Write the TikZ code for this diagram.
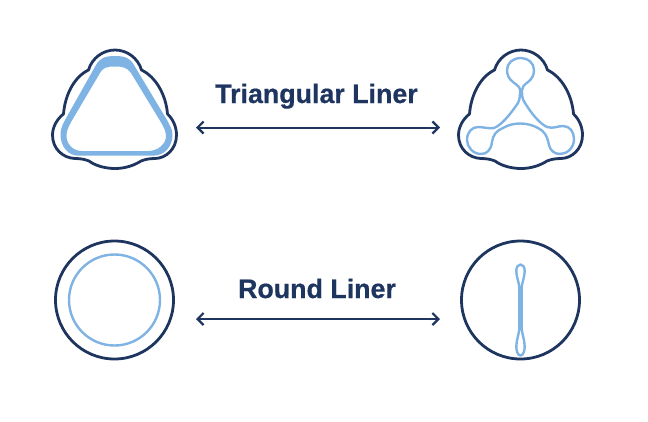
\documentclass[tikz,border=0pt]{standalone}
\usepackage{fontspec}
\setmainfont{Liberation Sans}
\usetikzlibrary{arrows.meta}
\definecolor{navy}{HTML}{1E3560}
\definecolor{sky}{HTML}{7FB3E3}
\tikzset{
  shell/.style={draw=navy,line width=2.8pt,line join=round},
  ring/.style={circle,draw=navy,line width=2.8pt,minimum size=118pt,inner sep=0pt},
  liner/.style={draw=sky,line width=2.4pt,line join=round},
  title/.style={text=navy,font=\fontsize{26.8pt}{30pt}\selectfont\bfseries\addfontfeature{FakeBold=0.6},anchor=base,inner sep=0pt},
  link/.style={draw=navy,line width=2pt,{Straight Barb[length=6pt,width=12pt,line width=2.2pt]}-{Straight Barb[length=6pt,width=12pt,line width=2.2pt]}}
}
\newcommand{\lobeshell}{
  (88.5,70) .. controls (92,58) and (103,50) .. (115,50)
  .. controls (127,50) and (138,58) .. (141.5,70)
  .. controls (156,77) and (166,95) .. (167.5,114)
  .. controls (173,119) and (176.5,127) .. (176.5,135)
  .. controls (176.5,149) and (166,158.3) .. (155,158.5)
  .. controls (150,158.6) and (146,159) .. (141,161)
  .. controls (134,165.5) and (125,168.5) .. (115,168.5)
  .. controls (105,168.5) and (95,165.5) .. (89,161)
  .. controls (84,159) and (80,158.6) .. (75,158.5)
  .. controls (63,158) and (52.5,149) .. (52.5,135)
  .. controls (52.5,127) and (57,119) .. (63.5,114)
  .. controls (65,95) and (74,77) .. (88.5,70) -- cycle}
\begin{document}
\begin{tikzpicture}[x=1pt,y=-1pt]
\useasboundingbox (0,0) rectangle (648,421);
% top left
\draw[shell] \lobeshell;
\fill[sky,even odd rule]
  (115,56) .. controls (125,56) and (130,58) .. (134,65)
  -- (167,120) .. controls (170,126) and (172.5,129) .. (172.5,135)
  .. controls (172.5,146) and (165,155.7) .. (153,155.7)
  -- (78,155.7) .. controls (68,155.7) and (60.5,146) .. (60.5,135)
  .. controls (60.5,129) and (62,126) .. (65,120)
  -- (96,65) .. controls (100,58) and (105,56) .. (115,56) -- cycle
  (115,66.5) .. controls (123,66.5) and (127,67.5) .. (131,73)
  -- (162,124) .. controls (165,130) and (166,132) .. (166,136)
  .. controls (166,144) and (158,151) .. (148,151)
  -- (82,151) .. controls (72,151) and (66.5,143) .. (66.5,136)
  .. controls (66.5,131) and (68,128) .. (70.5,123)
  -- (100,73) .. controls (103,67.5) and (107,66.5) .. (115,66.5) -- cycle;
% top right
\begin{scope}[xshift=406pt]
\draw[shell] \lobeshell;
\end{scope}
\draw[liner]
  (528,82) .. controls (524,85) and (522,87) .. (522,90)
  .. controls (522,95) and (522,99) .. (525,103)
  .. controls (531,113) and (540,124) .. (547,127)
  .. controls (553,129) and (558,126) .. (563,126)
  .. controls (570,126) and (574,132) .. (574,139)
  .. controls (574,148) and (567,154) .. (560,154)
  .. controls (554,154) and (550,150) .. (549,145)
  .. controls (547,135) and (544,131) .. (538,128)
  .. controls (527,122) and (513,122) .. (503,128)
  .. controls (496,131) and (493,135) .. (492,142)
  .. controls (491,150) and (487,154) .. (481,154)
  .. controls (473,154) and (467,147) .. (467,140)
  .. controls (467,132) and (472,127) .. (478,127)
  .. controls (484,127) and (489,129) .. (494,128)
  .. controls (502,125) and (512,112) .. (518,103)
  .. controls (520,99) and (520,95) .. (520,90)
  .. controls (520,87) and (517,85) .. (513,82)
  .. controls (509,79) and (507,75) .. (507,70)
  .. controls (507,63) and (513,58) .. (521,58)
  .. controls (528,58) and (534,63) .. (534,70)
  .. controls (534,75) and (532,79) .. (528,82) -- cycle;
% bottom left
\node[ring] (roundshell) at (114.5,300) {};
\node[circle,draw=sky,line width=2.4pt,minimum size=91pt,inner sep=0pt] (roundliner) at (114.5,300) {};
% bottom right
\node[ring] (flatshell) at (520.5,300) {};
\draw[liner]
  (520.5,264.5) .. controls (523,264.5) and (524.7,267) .. (524.7,271)
  .. controls (524.7,277) and (522,282) .. (521.6,288)
  -- (521.6,328)
  .. controls (522,334) and (524.7,340) .. (524.7,347)
  .. controls (524.7,351) and (523,355.5) .. (520.5,355.5)
  .. controls (518,355.5) and (516.3,351) .. (516.3,347)
  .. controls (516.3,340) and (519,334) .. (519.4,328)
  -- (519.4,288)
  .. controls (519,282) and (516.3,277) .. (516.3,271)
  .. controls (516.3,267) and (518,264.5) .. (520.5,264.5) -- cycle;
% labels
\node[title] (tri) at (316.5,103) {Triangular Liner};
\node[title] (rnd) at (317,298) {Round Liner};
% arrows
\coordinate (triL) at (196,127.5);
\coordinate (triR) at (440,127.5);
\coordinate (rndL) at (196,319);
\coordinate (rndR) at (440,319);
\draw[link] (triL) -- (triR);
\draw[link] (rndL) -- (rndR);
\end{tikzpicture}
\end{document}
